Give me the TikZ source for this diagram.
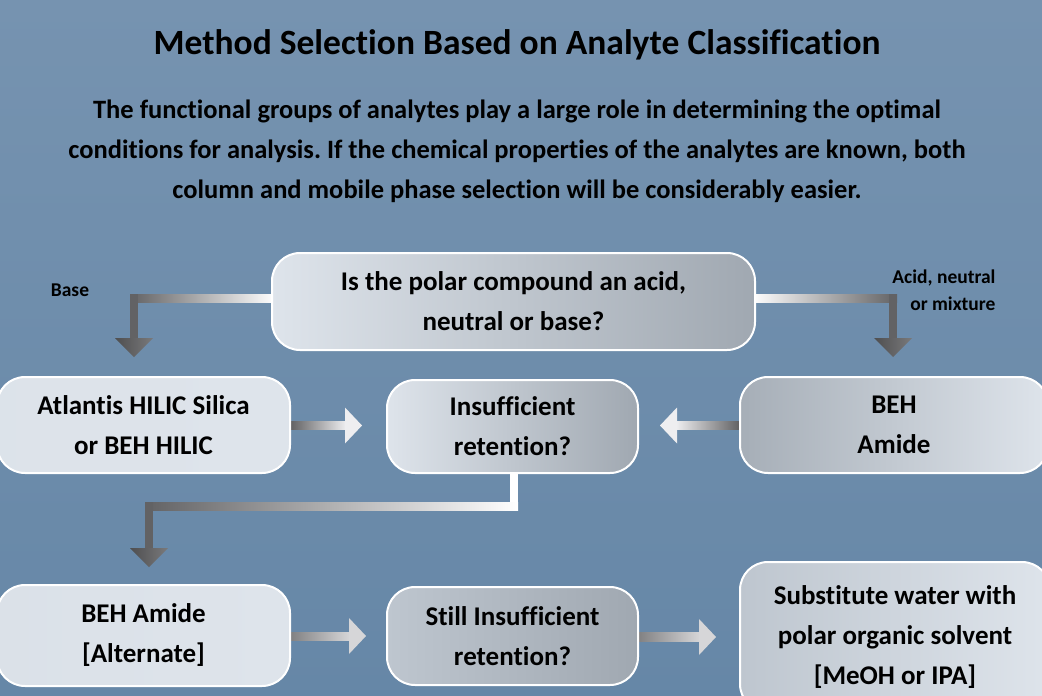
\documentclass[tikz,border=0pt]{standalone}
\usepackage{fontspec}
\setmainfont{Carlito}[Ligatures=NoCommon]
\usetikzlibrary{calc}
\definecolor{bgtop}{RGB}{118,147,176}
\definecolor{bgbot}{RGB}{102,135,167}
\definecolor{boxlight}{RGB}{222,228,235}
\definecolor{boxmid}{RGB}{190,198,207}
\definecolor{boxdark}{RGB}{160,168,177}
\definecolor{arrdark}{RGB}{98,98,100}
\definecolor{arrlight}{RGB}{238,238,240}
\pgfdeclarelayer{background}
\pgfsetlayers{background,main}
\frenchspacing
\newcommand{\boxfont}{\bfseries\fontsize{27}{40}\selectfont}
\newcommand{\pipeh}[4]{
	\shade[left color=#3, right color=#4] ($(#1)+(-4,-4)$) rectangle ($(#2)+(4,4)$);
}
\newcommand{\pipev}[3]{
	\fill[#3] ($(#1)+(-4,-4)$) rectangle ($(#2)+(4,4)$);
}
\newcommand{\arrdown}[3]{
	\fill[#3] ($(#1)+(-4,-4)$) rectangle ($(#2)+(4,-18)$);
	\shade[left color=#3!80!black, right color=#3!85!white] ($(#2)+(-19,-19)$) -- ($(#2)+(19,-19)$) -- (#2) -- cycle;
}
\newcommand{\arrright}[4]{
	\shade[left color=#3, right color=#4] ($(#1)+(0,-4)$) rectangle ($(#2)+(-16,4)$);
	\fill[#4] ($(#2)+(-17,-18)$) -- ($(#2)+(-17,18)$) -- (#2) -- cycle;
}
\newcommand{\arrleft}[4]{
	\shade[left color=#3, right color=#4] ($(#2)+(16,-4)$) rectangle ($(#1)+(0,4)$);
	\fill[#3] ($(#2)+(17,-18)$) -- ($(#2)+(17,18)$) -- (#2) -- cycle;
}

\begin{document}
\begin{tikzpicture}[x=1pt,y=-1pt,
	box/.style={draw=white, line width=2pt, rounded corners=28pt, align=center, inner sep=0pt, font=\boxfont},
	note/.style={font=\bfseries\fontsize{19.5}{27}\selectfont}]
	\useasboundingbox (0,0) rectangle (1042,696);

	\node[font=\bfseries\fontsize{35.5}{40}\selectfont] (title) at (517,45) {Method Selection Based on Analyte Classification};
	\node[align=center, font=\bfseries\fontsize{26.5}{40}\selectfont] (intro) at (517,151)
		{The functional groups of analytes play a large role in determining the optimal\\
		conditions for analysis. If the chemical properties of the analytes are known, both\\
		column and mobile phase selection will be considerably easier.};

	\node[box, minimum width=483pt, minimum height=97pt, left color=boxlight, right color=boxdark] (top) at (513.5,301.5)
		{Is the polar compound an acid,\\neutral or base?};
	\node[box, minimum width=293pt, minimum height=96pt, left color=boxlight!95!boxmid, right color=boxlight] (atl) at (143.5,425)
		{Atlantis HILIC Silica\\or BEH HILIC};
	\node[box, minimum width=251pt, minimum height=93pt, left color=boxlight, right color=boxdark] (ins) at (512.5,426.5)
		{Insufficient\\retention?};
	\node[box, minimum width=308pt, minimum height=96pt, left color=boxdark!80!boxmid, right color=boxlight] (beh) at (894,425)
		{BEH\\Amide};
	\node[box, minimum width=293pt, minimum height=101pt, left color=boxlight!90!boxmid, right color=boxlight] (alt) at (143.5,635.5)
		{BEH Amide\\{[Alternate]}};
	\node[box, minimum width=251pt, minimum height=98pt, left color=boxmid, right color=boxdark] (still) at (512.5,636)
		{Still Insufficient\\retention?};
	\node[box, minimum width=310pt, minimum height=150pt, left color=boxmid, right color=boxlight] (subst) at (895,637)
		{Substitute water with\\polar organic solvent\\{[MeOH or IPA]}};

	\node[note] (lbase) at (70,290) {Base};
	\node[note, align=right, anchor=east] (lacid) at (999,290) {Acid, neutral\\or mixture};

	\begin{pgfonlayer}{background}
	\shade[top color=bgtop, bottom color=bgbot] (0,0) rectangle (1042,696);

	% answer branches
	\coordinate (bturn) at (134,298);
	\coordinate (btip) at (134,357);
	\pipeh{bturn}{top.west |- bturn}{arrdark}{white}
	\arrdown{bturn}{btip}{arrdark}
	\coordinate (aturn) at (893,298);
	\coordinate (atip) at (893,357);
	\pipeh{top.east |- aturn}{aturn}{white}{arrdark}
	\arrdown{aturn}{atip}{arrdark}

	% second row
	\arrright{atl.east}{$(ins.west)+(-24,-1)$}{arrdark}{arrlight}
	\arrleft{beh.west}{$(ins.east)+(21,-1)$}{arrlight}{arrdark}
	\coordinate (dturn1) at (514,506);
	\coordinate (dturn2) at (149,506);
	\coordinate (dtip) at (149,567);
	\pipev{ins.south -| dturn1}{dturn1}{white}
	\pipeh{dturn2}{dturn1}{arrdark}{white}
	\arrdown{dturn2}{dtip}{arrdark}

	% third row
	\arrright{alt.east |- still}{$(still.west)+(-20,0)$}{arrdark!80!white}{arrlight!90!black}
	\arrright{still.east}{$(subst.west)+(-23,0)$}{arrdark!80!white}{arrlight!90!black}
	\end{pgfonlayer}
\end{tikzpicture}
\end{document}
